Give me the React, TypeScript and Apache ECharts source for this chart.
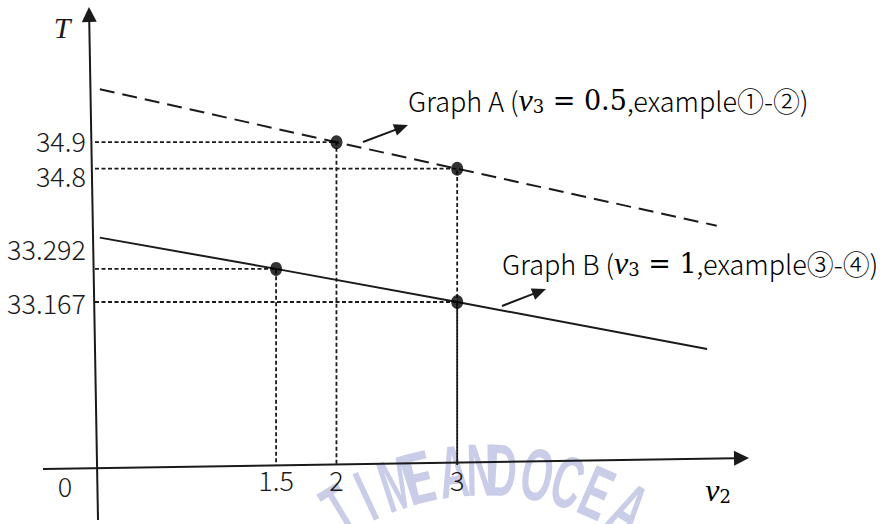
import React, { useEffect, useRef } from 'react';
import * as echarts from 'echarts';

const W = 883;
const H = 524;
const INK = '#1a1a1a';
const SANS = '"Noto Sans CJK SC", "Noto Sans", sans-serif';
const SANS_WEIGHT = 300;
const SERIF = '"Liberation Serif", "DejaVu Serif", serif';
const MATH = '"DejaVu Serif", serif';

// v2 tick marks and their labels
const xTicks = [0, 1.5, 2, 3];
const xTickLabels = ['0', '1.5', '2', '3'];

// T tick marks and their labels
const yTicks = [33.167, 33.292, 34.8, 34.9];
const yTickLabels = ['33.167', '33.292', '34.8', '34.9'];

// Graph A (v3 = 0.5): examples ① and ②
const graphAPoints = [[2, 34.9], [3, 34.8]];
// Graph A as drawn, left end → examples → right end
const graphALine = [[0.04, 35.1], [2, 34.9], [3, 34.8], [5.15, 34.585]];

// Graph B (v3 = 1): examples ③ and ④
const graphBPoints = [[1.5, 33.292], [3, 33.167]];
const graphBLine = [[0.04, 33.41], [1.5, 33.292], [3, 33.167], [5.07, 32.99]];

const X_RANGE = [0, 5.5];
const Y_RANGE = [32.552, 35.38];
// empty band of T between the two graphs, collapsed on the axis
const Y_BREAK = [33.42, 34.55];

// faint seal lettering behind the lower axis: [glyph, angle in degrees]
const sealGlyphs: [string, number][] = [
  ['T', -31], ['I', -25], ['M', -18.1], ['E', -13.4],
  ['A', -6.4], ['N', -0.8], ['D', 3.5],
  ['O', 10.7], ['C', 17], ['E', 23.3], ['A', 30.7],
];

function arrow(x1: number, y1: number, x2: number, y2: number, len: number, half: number, width: number) {
  const d = Math.hypot(x2 - x1, y2 - y1);
  const ux = (x2 - x1) / d;
  const uy = (y2 - y1) / d;
  const bx = x2 - ux * len;
  const by = y2 - uy * len;
  const nx = -uy;
  const ny = ux;
  return [
    {
      type: 'line',
      silent: true,
      shape: { x1, y1, x2: bx + ux, y2: by + uy },
      style: { stroke: INK, lineWidth: width },
      z: 20,
    },
    {
      type: 'polygon',
      silent: true,
      shape: {
        points: [
          [x2, y2],
          [bx + nx * half, by + ny * half],
          [bx - nx * half, by - ny * half],
        ],
      },
      style: { fill: INK },
      z: 20,
    },
  ];
}

const annoRich = {
  t: { fontFamily: SANS, fontWeight: SANS_WEIGHT, fontSize: 27, color: INK },
  v: { fontFamily: SERIF, fontStyle: 'italic', fontSize: 32, color: INK },
  s: { fontFamily: MATH, fontSize: 18, color: INK, padding: [13, 0, 0, 0] },
  m: { fontFamily: MATH, fontSize: 27, color: INK },
};

const tickFont = { fontFamily: SANS, fontWeight: SANS_WEIGHT, fontSize: 27, color: INK };

export default function App() {
  const ref = useRef<HTMLDivElement>(null);

  useEffect(() => {
    if (!ref.current) return;
    const chart = echarts.init(ref.current, null, { renderer: 'svg', width: W, height: H });

    const guideSeries = [...graphAPoints, ...graphBPoints].map(([x, y], i) => ({
      type: 'line',
      name: 'guide' + i,
      data: [[X_RANGE[0], y], [x, y], [x, Y_RANGE[0]]],
      symbol: 'none',
      silent: true,
      z: 2,
      lineStyle: { color: INK, width: 1.8, type: [4, 2.5] },
    }));

    const labelOf = (ticks: number[], labels: string[], v: number) => {
      const i = ticks.findIndex((t) => Math.abs(t - v) < 1e-9);
      return i >= 0 ? labels[i] : String(v);
    };

    chart.setOption({
      animation: false,
      backgroundColor: '#ffffff',
      grid: { left: 95, right: 124, top: 15, bottom: 59 },
      xAxis: {
        type: 'value',
        min: X_RANGE[0],
        max: X_RANGE[1],
        axisLine: { show: false },
        axisTick: { show: false },
        splitLine: { show: false },
        axisLabel: {
          customValues: xTicks,
          margin: 1,
          ...tickFont,
          formatter: (v: number) => {
            const s = labelOf(xTicks, xTickLabels, v);
            return v === 0 ? '{o|' + s + '}' : s;
          },
          rich: {
            o: { ...tickFont, padding: [6, 60, 0, 0] },
          },
        },
      },
      yAxis: {
        type: 'value',
        min: Y_RANGE[0],
        max: Y_RANGE[1],
        breaks: [{ start: Y_BREAK[0], end: Y_BREAK[1], gap: 0 }],
        breakArea: { show: false, itemStyle: { opacity: 0 }, zigzagAmplitude: 0 },
        axisLine: { show: false },
        axisTick: { show: false },
        splitLine: { show: false },
        axisLabel: {
          // listed so that neighbours in the list never share a band
          customValues: [yTicks[0], yTicks[3], yTicks[1], yTicks[2]],
          margin: 9,
          ...tickFont,
          formatter: (v: number) => {
            const s = labelOf(yTicks, yTickLabels, v);
            if (s === '34.9') return '{hi|' + s + '}';
            if (s === '34.8') return '{dn|' + s + '}';
            if (s === '33.292') return '{up|' + s + '}';
            return s;
          },
          rich: {
            hi: { ...tickFont, padding: [0, 0, 4, 0] },
            dn: { ...tickFont, padding: [14, 0, 0, 0] },
            up: { ...tickFont, padding: [0, 0, 40, 0] },
          },
        },
      },
      series: [
        ...guideSeries,
        {
          type: 'line',
          name: 'Graph A',
          data: graphALine,
          symbol: 'none',
          silent: true,
          z: 3,
          lineStyle: { color: INK, width: 2, type: [15, 8] },
        },
        {
          type: 'line',
          name: 'Graph B',
          data: graphBLine,
          symbol: 'none',
          silent: true,
          z: 3,
          lineStyle: { color: INK, width: 2 },
        },
        {
          type: 'scatter',
          name: 'examples',
          data: [...graphAPoints, ...graphBPoints],
          symbol: 'circle',
          symbolSize: [12, 14],
          silent: true,
          z: 5,
          itemStyle: { color: '#000' },
        },
      ],
    });

    const px = (x: number, y: number) => chart.convertToPixel({ gridIndex: 0 }, [x, y]) as number[];
    const [ox, oy] = px(X_RANGE[0], Y_RANGE[0]);

    // seal lettering along an arc
    const cx = 485;
    const cy = 752;
    const R = 319;
    const seal = sealGlyphs.map(([ch, deg]) => {
      const th = (deg * Math.PI) / 180;
      return {
        type: 'text',
        silent: true,
        x: cx + R * Math.sin(th),
        y: cy - R * Math.cos(th),
        rotation: -th,
        scaleX: 0.55,
        z: -5,
        style: {
          text: ch,
          x: 0,
          y: 0,
          align: 'center',
          verticalAlign: 'top',
          fill: '#c9cde7',
          fontFamily: '"Liberation Sans", sans-serif',
          fontWeight: 'bold',
          fontSize: 74,
        },
      };
    });

    const elements: any[] = [
      ...seal,
      // T axis, drawn slightly off plumb as in the sketch
      ...arrow(ox + 3, oy + 55, ox - 6, oy - 458, 15, 7.5, 2),
      // v2 axis
      ...arrow(ox - 52, oy + 4, ox + 654, oy - 7, 15, 7.5, 2),
      // pointers from the examples to their captions
      ...arrow(363, 142, 408, 125, 14, 6, 2),
      ...arrow(502, 306, 546, 289, 14, 6, 2),
      {
        type: 'text',
        silent: true,
        z: 20,
        style: {
          text: 'T',
          x: 62,
          y: 27,
          align: 'center',
          verticalAlign: 'middle',
          fill: INK,
          fontFamily: SERIF,
          fontStyle: 'italic',
          fontSize: 30,
        },
      },
      {
        type: 'text',
        silent: true,
        z: 20,
        style: {
          text: '{v|v}{s|2}',
          x: 718,
          y: 490,
          align: 'center',
          verticalAlign: 'middle',
          rich: annoRich,
        },
      },
      {
        type: 'text',
        silent: true,
        z: 20,
        style: {
          text: '{t|Graph A (}{v|v}{s|3}{m| = 0.5}{t|,example①-②)}',
          x: 408,
          y: 100,
          align: 'left',
          verticalAlign: 'middle',
          rich: annoRich,
        },
      },
      {
        type: 'text',
        silent: true,
        z: 20,
        style: {
          text: '{t|Graph B (}{v|v}{s|3}{m| = 1}{t|,example③-④)}',
          x: 502,
          y: 263,
          align: 'left',
          verticalAlign: 'middle',
          rich: annoRich,
        },
      },
    ];

    chart.setOption({ graphic: { elements } });

    return () => chart.dispose();
  }, []);

  return (
    <div
      ref={ref}
      style={{ position: 'fixed', left: 0, top: 0, width: W, height: H, background: '#fff' }}
    />
  );
}
